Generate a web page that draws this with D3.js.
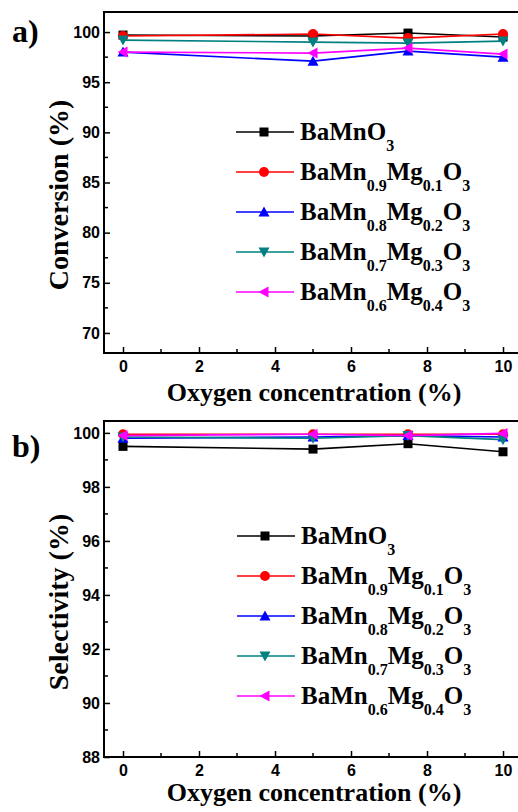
<!DOCTYPE html>
<html>
<head>
<meta charset="utf-8">
<script src="https://d3js.org/d3.v7.min.js"></script>
<style>
  body { margin: 0; background: #fff; }
</style>
</head>
<body>
<script>
var oxygen = [0, 5, 7.5, 10];

var seriesNames = ["BaMnO_3", "BaMn_{0.9}Mg_{0.1}O_3", "BaMn_{0.8}Mg_{0.2}O_3",
                   "BaMn_{0.7}Mg_{0.3}O_3", "BaMn_{0.6}Mg_{0.4}O_3"];
var seriesColors = ["#000000", "#ff0000", "#0000ff", "#008080", "#ff00ff"];
var seriesShapes = ["square", "circle", "up", "down", "left"];

// panel a) conversion (%)
var conversion = [
  [99.7, 99.6, 99.9, 99.5],
  [99.6, 99.8, 99.4, 99.8],
  [98.0, 97.1, 98.1, 97.5],
  [99.2, 99.0, 98.9, 99.1],
  [98.0, 97.9, 98.4, 97.8]
];
var conversionTicks = [70, 75, 80, 85, 90, 95, 100];

// panel b) selectivity (%)
var selectivity = [
  [99.5, 99.4, 99.6, 99.3],
  [99.95, 99.95, 99.95, 99.95],
  [99.8, 99.85, 99.9, 99.85],
  [99.85, 99.8, 99.9, 99.75],
  [99.9, 99.95, 99.9, 99.98]
];
var selectivityTicks = [88, 90, 92, 94, 96, 98, 100];

var xTicks = [0, 2, 4, 6, 8, 10];

var SERIF = "Liberation Serif";
var SANS = "Liberation Sans";

var svg = d3.select("body").append("svg")
  .attr("width", 518)
  .attr("height", 812);

drawPanel({
  top: 12, bottom: 353, yDomain: [68, 102],
  values: conversion, ticks: conversionTicks, minorStep: 2.5,
  yTitle: "Conversion (%)", yTitleY: 195, xTitleY: 401,
  tag: "a)", tagY: 42, legendY: 132, legendX: 236
});

drawPanel({
  top: 421, bottom: 757, yDomain: [88, 100.44],
  values: selectivity, ticks: selectivityTicks, minorStep: 1,
  yTitle: "Selectivity (%)", yTitleY: 602, xTitleY: 801,
  tag: "b)", tagY: 457, legendY: 536, legendX: 237
});

function drawPanel(p) {
  var left = 104, right = 520;
  var x = d3.scaleLinear().domain([-0.5, 10.447]).range([left, right]);
  var y = d3.scaleLinear().domain(p.yDomain).range([p.bottom, p.top]);
  var g = svg.append("g");

  // minor ticks
  var xMinor = d3.range(1, 10, 2);
  g.selectAll(".xminor").data(xMinor).enter().append("line")
    .attr("x1", function(d) { return x(d); })
    .attr("x2", function(d) { return x(d); })
    .attr("y1", p.bottom).attr("y2", p.bottom - 4)
    .attr("stroke", "#000").attr("stroke-width", 1.5);

  var yMinor = d3.range(p.ticks[0] + p.minorStep, p.yDomain[1], p.minorStep * 2);
  g.selectAll(".yminor").data(yMinor).enter().append("line")
    .attr("x1", left).attr("x2", left + 4)
    .attr("y1", function(d) { return y(d); })
    .attr("y2", function(d) { return y(d); })
    .attr("stroke", "#000").attr("stroke-width", 1.5);

  var xAxis = d3.axisBottom(x).tickValues(xTicks).tickSizeInner(-6).tickSizeOuter(0).tickPadding(8);
  var yAxis = d3.axisLeft(y).tickValues(p.ticks).tickSizeInner(-6).tickSizeOuter(0).tickPadding(4);

  var xg = g.append("g").attr("transform", "translate(0," + p.bottom + ")").call(xAxis);
  var yg = g.append("g").attr("transform", "translate(" + left + ",0)").call(yAxis);
  [xg, yg].forEach(function(a) {
    a.select(".domain").remove();
    a.selectAll(".tick line").attr("stroke-width", 1.5);
    a.attr("font-family", SANS).attr("font-size", "16px").attr("font-weight", "bold");
    a.selectAll(".tick text").attr("fill", "#000");
  });

  g.append("rect")
    .attr("x", left).attr("y", p.top)
    .attr("width", right - left).attr("height", p.bottom - p.top)
    .attr("fill", "none").attr("stroke", "#000").attr("stroke-width", 2);

  // series lines and markers
  var line = d3.line()
    .x(function(d, i) { return x(oxygen[i]); })
    .y(function(d) { return y(d); });

  p.values.forEach(function(vals, s) {
    g.append("path").datum(vals)
      .attr("d", line)
      .attr("fill", "none")
      .attr("stroke", seriesColors[s])
      .attr("stroke-width", 1.6);
    vals.forEach(function(v, i) {
      drawMarker(g, seriesShapes[s], x(oxygen[i]), y(v), seriesColors[s]);
    });
  });

  // legend
  seriesNames.forEach(function(name, s) {
    var ly = p.legendY + s * 40;
    g.append("line")
      .attr("x1", p.legendX).attr("x2", p.legendX + 58)
      .attr("y1", ly).attr("y2", ly)
      .attr("stroke", seriesColors[s]).attr("stroke-width", 1.6);
    drawMarker(g, seriesShapes[s], p.legendX + 28, ly, seriesColors[s]);
    drawFormula(g, name, p.legendX + 64, ly + 8);
  });

  // titles
  serifText(g, 314, p.xTitleY, 26)
    .attr("text-anchor", "middle")
    .text("Oxygen concentration (%)");

  serifText(g, 0, 0, 28)
    .attr("transform", "translate(68," + p.yTitleY + ") rotate(-90)")
    .attr("text-anchor", "middle")
    .text(p.yTitle);

  serifText(g, 12, p.tagY, 32).text(p.tag);
}

function serifText(g, tx, ty, size) {
  return g.append("text")
    .attr("x", tx).attr("y", ty)
    .attr("font-family", SERIF)
    .attr("font-weight", "bold")
    .attr("font-size", size + "px")
    .attr("fill", "#000");
}

function drawMarker(g, shape, cx, cy, color) {
  if (shape === "circle") {
    g.append("circle").attr("cx", cx).attr("cy", cy).attr("r", 5).attr("fill", color);
    return;
  }
  var pts;
  if (shape === "square") pts = [[-4.5, -4.5], [4.5, -4.5], [4.5, 4.5], [-4.5, 4.5]];
  if (shape === "up") pts = [[0, -5.5], [5.5, 4.5], [-5.5, 4.5]];
  if (shape === "down") pts = [[0, 5.5], [5.5, -4.5], [-5.5, -4.5]];
  if (shape === "left") pts = [[-5.5, 0], [4.5, -5.5], [4.5, 5.5]];
  g.append("polygon")
    .attr("points", pts.map(function(q) { return (cx + q[0]) + "," + (cy + q[1]); }).join(" "))
    .attr("fill", color);
}

function drawFormula(g, name, tx, ty) {
  var t = serifText(g, tx, ty, 25);
  var re = /_\{([^}]*)\}|_(.)|([^_]+)/g, m;
  while ((m = re.exec(name)) !== null) {
    if (m[3]) {
      t.append("tspan").attr("y", ty).attr("font-size", "25px").text(m[3]);
    } else {
      t.append("tspan").attr("y", ty + 11).attr("font-size", "16px").text(m[1] || m[2]);
    }
  }
}
</script>
</body>
</html>
